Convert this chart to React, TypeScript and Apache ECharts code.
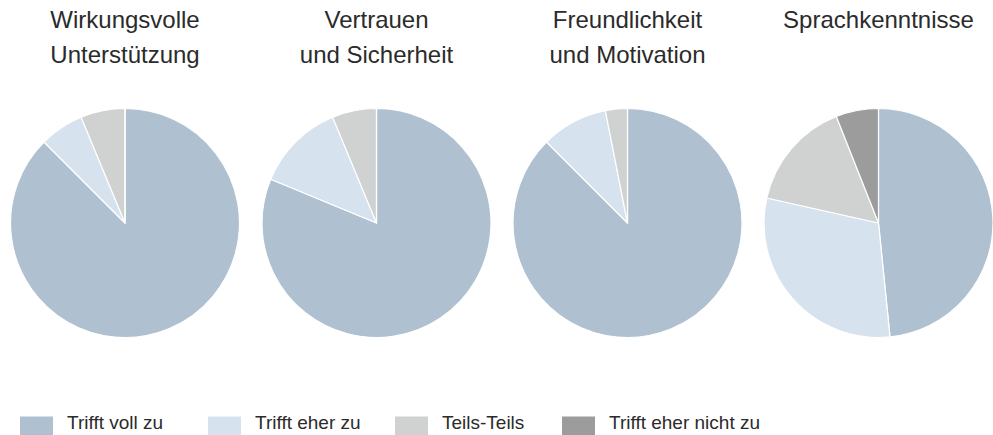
import React, { useEffect, useRef } from "react";
import * as echarts from "echarts";

const categories = ["Trifft voll zu", "Trifft eher zu", "Teils-Teils", "Trifft eher nicht zu"];
const titles = [
  "Wirkungsvolle\nUnterstützung",
  "Vertrauen\nund Sicherheit",
  "Freundlichkeit\nund Motivation",
  "Sprachkenntnisse",
];
const wirkungsvolle = [87.5, 6.25, 6.25, 0];
const vertrauen = [81.25, 12.5, 6.25, 0];
const freundlichkeit = [87.5, 9.4, 3.1, 0];
const sprachkenntnisse = [48.4, 30.1, 15.5, 6.0];

const seriesValues = [wirkungsvolle, vertrauen, freundlichkeit, sprachkenntnisse];
const colors = ["#afc0d0", "#d6e2ee", "#d0d1d1", "#9c9c9c"];
const centersX = [125, 376.5, 627.5, 878.5];
const legendLeft = [18, 206, 393, 560];
const FONT = "'Liberation Sans', Arial, Helvetica, sans-serif";

export default function App() {
  const ref = useRef<HTMLDivElement>(null);
  useEffect(() => {
    document.body.style.margin = "0";
    const chart = echarts.init(ref.current!, null, { renderer: "svg" });
    chart.setOption({
      animation: false,
      color: colors,
      title: titles.map((t, i) => ({
        text: t,
        left: centersX[i],
        top: 2,
        textAlign: "center",
        padding: 0,
        textStyle: {
          fontFamily: FONT,
          fontSize: 24,
          fontWeight: "normal",
          color: "#2b2b2b",
          lineHeight: 35,
        },
      })),
      legend: categories.map((c, i) => ({
        data: [c],
        left: legendLeft[i],
        top: 413,
        padding: 0,
        itemWidth: 35,
        itemHeight: 24,
        icon: "rect",
        selectedMode: false,
        formatter: "{a|{name}}",
        textStyle: {
          fontFamily: FONT,
          fontSize: 19,
          color: "#2b2b2b",
          rich: {
            a: {
              fontFamily: FONT,
              fontSize: 19,
              color: "#2b2b2b",
              padding: [0, 0, 10, 8],
            },
          },
        },
      })),
      series: seriesValues.map((vals, si) => ({
        type: "pie",
        center: [centersX[si], 223],
        radius: 114.5,
        startAngle: 90,
        clockwise: true,
        label: { show: false },
        labelLine: { show: false },
        emphasis: { disabled: true },
        itemStyle: { borderColor: "#fff", borderWidth: 1.2 },
        data: categories.map((c, ci) => ({
          name: c,
          value: vals[ci],
          itemStyle: { color: colors[ci] },
        })),
      })),
    });
    return () => chart.dispose();
  }, []);
  return <div ref={ref} style={{ width: 993, height: 435 }} />;
}
